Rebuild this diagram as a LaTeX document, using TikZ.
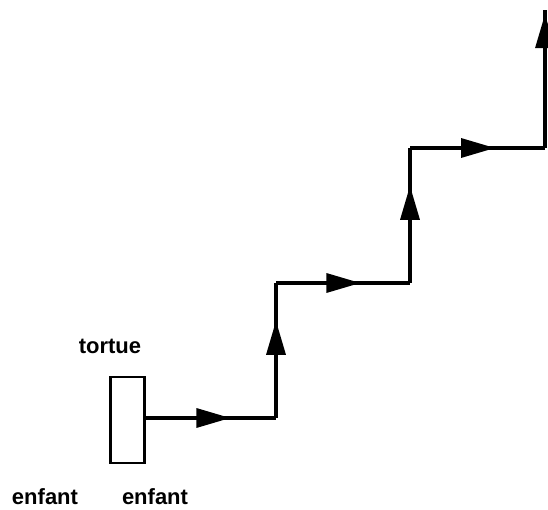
\documentclass[tikz,border=0pt]{standalone}
\usepackage{fontspec}
\setmainfont{Liberation Sans}
\usetikzlibrary{arrows.meta,decorations.markings}
\begin{document}
\begin{tikzpicture}[x=1pt,y=-1pt,
  pathline/.style={line width=3.3pt},
  lbl/.style={font=\bfseries\fontsize{22}{24}\selectfont,inner sep=0pt},
  arrowat/.style={postaction={decorate,decoration={markings,
     mark=at position #1 with {\arrow{Triangle[length=34pt,width=19pt]}}}}}]
\useasboundingbox (0,0) rectangle (548,510);
\node[draw,line width=2.4pt,minimum width=34pt,minimum height=86pt,inner sep=0pt] (box) at (127.5,420) {};
\coordinate (c1) at (276,418);
\coordinate (c2) at (276,283);
\coordinate (c3) at (410,283);
\coordinate (c4) at (410,148);
\coordinate (c5) at (545,148);
\coordinate (c6) at (545,10);
\draw[pathline,arrowat=0.65] (box.east |- c1) -- (c1);
\draw[pathline,arrowat=0.72] (c1) -- (c2);
\draw[pathline,arrowat=0.63] (c2) -- (c3);
\draw[pathline,arrowat=0.72] (c3) -- (c4);
\draw[pathline,arrowat=0.63] (c4) -- (c5);
\draw[pathline,arrowat=0.97] (c5) -- (c6);
\node[lbl] (tortue) at (110,346) {tortue};
\node[lbl] (enf1) at (45,497) {enfant};
\node[lbl] (enf2) at (155,497) {enfant};
\end{tikzpicture}
\end{document}
